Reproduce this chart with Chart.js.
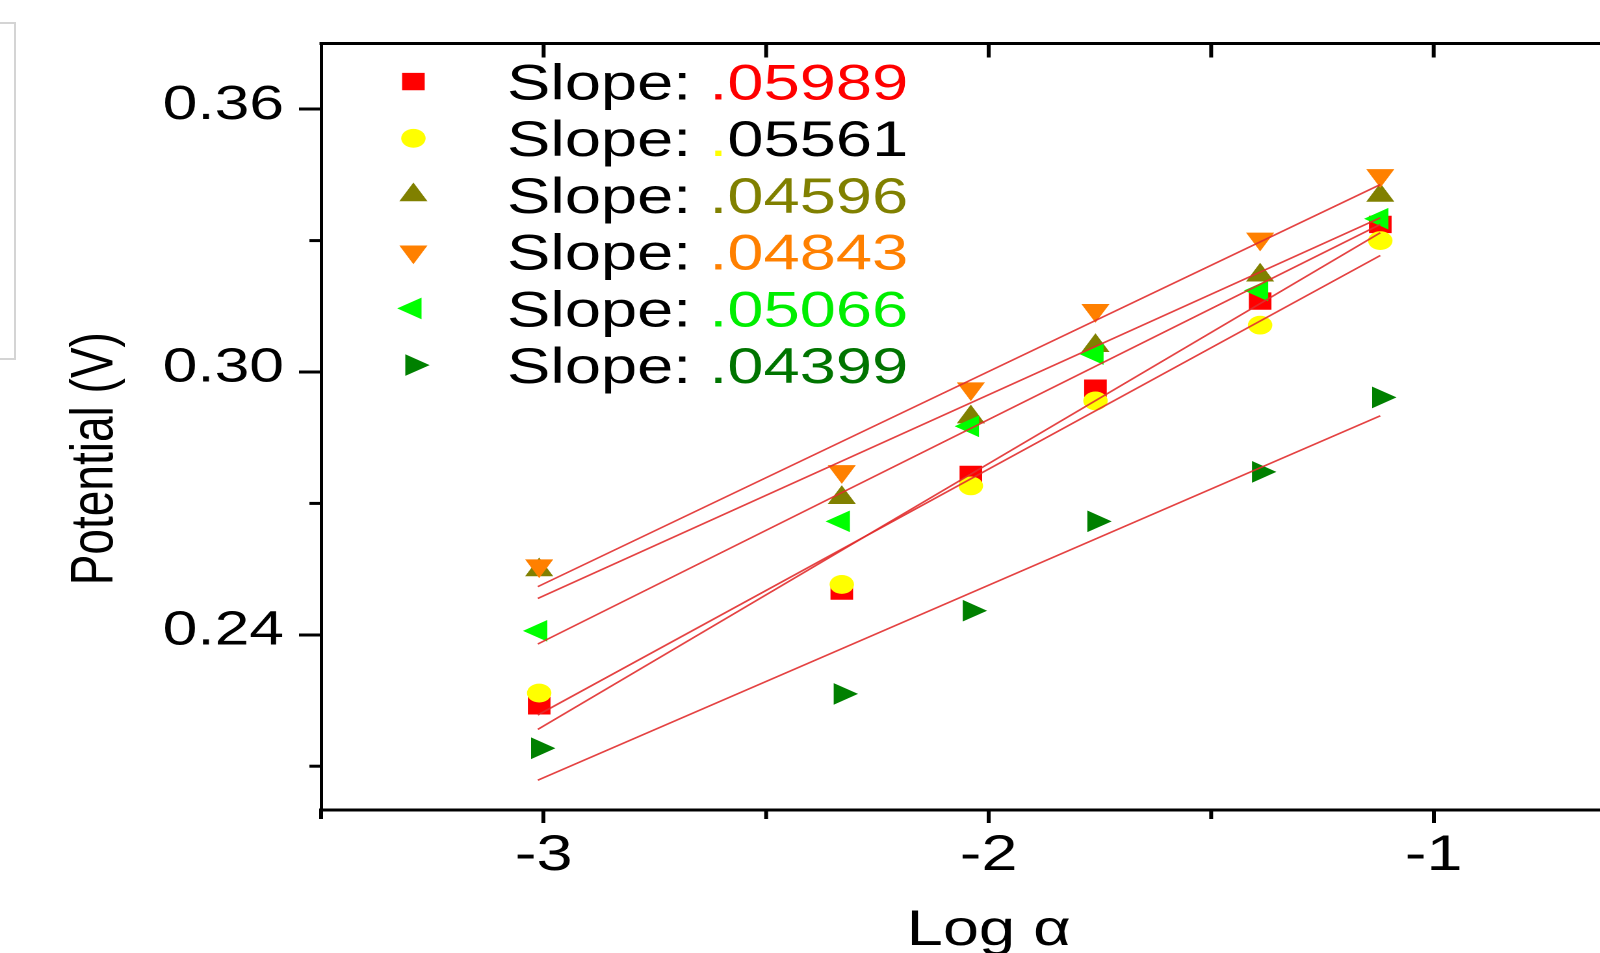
<!DOCTYPE html>
<html>
<head>
<meta charset="utf-8">
<script src="https://cdn.jsdelivr.net/npm/chart.js@4/dist/chart.umd.min.js"></script>
<style>
html, body { margin:0; padding:0; overflow:hidden; background:#fff; width:1600px; height:953px; }
#box { position:absolute; left:-20px; top:22px; width:32px; height:334px; border:2px solid #d4d4d4; }
#wrap { position:absolute; left:0; top:0; width:1274px; height:953px; transform:scaleX(1.3); transform-origin:0 0; }
#c { display:block; }
</style>
</head>
<body>
<div id="box"></div>
<div id="wrap"><canvas id="c" width="1274" height="953"></canvas></div>
<script>
// ---- data ----
const logAlpha        = [-3.01, -2.33, -2.04, -1.76, -1.39, -1.12];
const seriesRed       = [0.2238, 0.2500, 0.2766, 0.2963, 0.3162, 0.3337];
const seriesYellow    = [0.2267, 0.2515, 0.2740, 0.2934, 0.3107, 0.3300];
const seriesOlive     = [0.2548, 0.2713, 0.2897, 0.3060, 0.3221, 0.3403];
const seriesOrange    = [0.2558, 0.2773, 0.2962, 0.3141, 0.3304, 0.3449];
const seriesGreen     = [0.2409, 0.2659, 0.2876, 0.3041, 0.3186, 0.3350];
const seriesDarkGreen = [0.2141, 0.2265, 0.2455, 0.2659, 0.2772, 0.2942];
const fitX     = [-3.013, -1.12];
const fitStart = [0.2184, 0.2217, 0.2483, 0.2510, 0.2379, 0.2068];
const fitEnd   = [0.3318, 0.3266, 0.3352, 0.3428, 0.3337, 0.2900];
const slopeLabels = ['.05989', '.05561', '.04596', '.04843', '.05066', '.04399'];
const xMajorTicks = [-3, -2, -1];
const xMinorTicks = [-3.5, -2.5, -1.5];
const yMajorTicks = [0.24, 0.30, 0.36];
const yMinorTicks = [0.21, 0.27, 0.33];

// ---- styles ----
const seriesValues = [seriesRed, seriesYellow, seriesOlive, seriesOrange, seriesGreen, seriesDarkGreen];
const styles = [
  {color:'#ff0000', style:'rect',     rot:0,   r:12.3},
  {color:'#ffff00', style:'circle',   rot:0,   r:9.4},
  {color:'#808000', style:'triangle', rot:0,   r:12.5},
  {color:'#ff8000', style:'triangle', rot:180, r:12.5},
  {color:'#00ff00', style:'triangle', rot:270, r:12.5},
  {color:'#008000', style:'triangle', rot:90,  r:12.5}
];
const slopeTextColors = ['#ff0000', '#000000', '#808000', '#ff8000', '#00ee00', '#007400'];
const slopeDotColors  = ['#ff0000', '#ffff00', '#808000', '#ff8000', '#00ee00', '#007400'];
const FONT = '"Liberation Sans", Arial, sans-serif';

const datasets = [];
seriesValues.forEach((vals, i) => {
  datasets.push({
    label: 'Slope: ' + slopeLabels[i],
    data: logAlpha.map((x, j) => ({x: x, y: vals[j]})),
    showLine: false,
    pointStyle: styles[i].style,
    pointRotation: styles[i].rot,
    pointRadius: styles[i].r,
    pointBackgroundColor: styles[i].color,
    pointBorderWidth: 0,
    order: 6 - i
  });
});
seriesValues.forEach((vals, i) => {
  datasets.push({
    label: 'fit ' + (i + 1),
    data: [{x: fitX[0], y: fitStart[i]}, {x: fitX[1], y: fitEnd[i]}],
    showLine: true,
    borderColor: 'rgba(225,45,45,0.9)',
    borderWidth: 1.6,
    pointRadius: 0,
    fill: false,
    order: 0
  });
});

function drawMarker(ctx, style, rotDeg, r, x, y) {
  ctx.beginPath();
  if (style === 'circle') {
    ctx.arc(x, y, r, 0, Math.PI * 2);
  } else if (style === 'rect') {
    const s = Math.SQRT1_2 * r;
    ctx.rect(x - s, y - s, 2 * s, 2 * s);
  } else {
    let rad = rotDeg * Math.PI / 180;
    ctx.moveTo(x + Math.sin(rad) * r, y - Math.cos(rad) * r);
    for (let k = 0; k < 2; k++) {
      rad += 2 * Math.PI / 3;
      ctx.lineTo(x + Math.sin(rad) * r, y - Math.cos(rad) * r);
    }
    ctx.closePath();
  }
  ctx.fill();
}

const decor = {
  id: 'decor',
  afterDraw(chart) {
    const {ctx, chartArea: a, scales: {x, y}} = chart;
    ctx.save();
    ctx.strokeStyle = '#000';
    ctx.lineCap = 'butt';
    // top frame line
    ctx.lineWidth = 3;
    ctx.beginPath(); ctx.moveTo(a.left - 1.25, a.top); ctx.lineTo(a.right, a.top); ctx.stroke();
    // top ticks (inward)
    xMajorTicks.concat(xMinorTicks).forEach(v => {
      const px = x.getPixelForValue(v);
      if (px < a.left + 2) return;
      ctx.beginPath(); ctx.moveTo(px, a.top); ctx.lineTo(px, a.top + 14); ctx.stroke();
    });
    // bottom minor ticks
    xMinorTicks.forEach(v => {
      const px = x.getPixelForValue(v);
      ctx.beginPath(); ctx.moveTo(px, a.bottom); ctx.lineTo(px, a.bottom + 9); ctx.stroke();
    });
    // left minor ticks
    yMinorTicks.forEach(v => {
      const py = y.getPixelForValue(v);
      ctx.beginPath(); ctx.moveTo(a.left - 9, py); ctx.lineTo(a.left, py); ctx.stroke();
    });
    // legend
    const lx = 318, tx = 390, ly0 = 81.6, dy = 56.7, fs = 50;
    ctx.font = fs + 'px ' + FONT;
    ctx.textBaseline = 'alphabetic';
    ctx.textAlign = 'left';
    styles.forEach((s, i) => {
      const cy = ly0 + i * dy;
      ctx.fillStyle = s.color;
      drawMarker(ctx, s.style, s.rot, s.r, lx, cy);
      const base = cy + 0.358 * fs;
      const lead = 'Slope: ';
      ctx.fillStyle = '#000';
      ctx.fillText(lead, tx, base);
      let xx = tx + ctx.measureText(lead).width;
      const val = slopeLabels[i];
      ctx.fillStyle = slopeDotColors[i];
      ctx.fillText(val.charAt(0), xx, base);
      xx += ctx.measureText(val.charAt(0)).width;
      ctx.fillStyle = slopeTextColors[i];
      ctx.fillText(val.slice(1), xx, base);
    });
    ctx.restore();
  }
};

new Chart(document.getElementById('c'), {
  type: 'scatter',
  data: { datasets: datasets },
  options: {
    responsive: false,
    maintainAspectRatio: false,
    animation: false,
    devicePixelRatio: 2,
    events: [],
    layout: { autoPadding: false, padding: { top: 43.5, right: 0, bottom: 0, left: 0 } },
    plugins: { legend: { display: false }, tooltip: { enabled: false } },
    scales: {
      x: {
        type: 'linear',
        position: 'bottom',
        min: -3.5,
        max: -0.5,
        afterBuildTicks: s => { s.ticks = xMajorTicks.map(v => ({value: v})); },
        afterFit: s => { s.height = 143; s.paddingLeft = 0; s.paddingRight = 0; },
        ticks: {
          font: { family: FONT, size: 50 },
          color: '#000',
          padding: 3,
          maxRotation: 0,
          callback: v => String(v)
        },
        grid: { drawOnChartArea: false, drawTicks: true, tickLength: 13, tickWidth: 3, tickColor: '#000', color: '#000' },
        border: { display: true, color: '#000', width: 3 },
        title: { display: true, text: 'Log α', color: '#000', font: { family: FONT, size: 50, lineHeight: 0.88 }, padding: 0 }
      },
      y: {
        type: 'linear',
        position: 'left',
        min: 0.2,
        max: 0.375,
        afterBuildTicks: s => { s.ticks = yMajorTicks.map(v => ({value: v})); },
        afterFit: s => { s.width = 247; s.paddingTop = 0; s.paddingBottom = 0; },
        ticks: {
          font: { family: FONT, size: 48 },
          color: '#000',
          padding: 11.5,
          labelOffset: -3.5,
          callback: v => Number(v).toFixed(2)
        },
        grid: { drawOnChartArea: false, drawTicks: true, tickLength: 17, tickWidth: 3, tickColor: '#000', color: '#000' },
        border: { display: true, color: '#000', width: 2.5 },
        title: { display: true, text: 'Potential (V)     ', color: '#000', font: { family: FONT, size: 46, lineHeight: 1.2 }, padding: { top: 46, bottom: 0 } }
      }
    }
  },
  plugins: [decor]
});
</script>
</body>
</html>
